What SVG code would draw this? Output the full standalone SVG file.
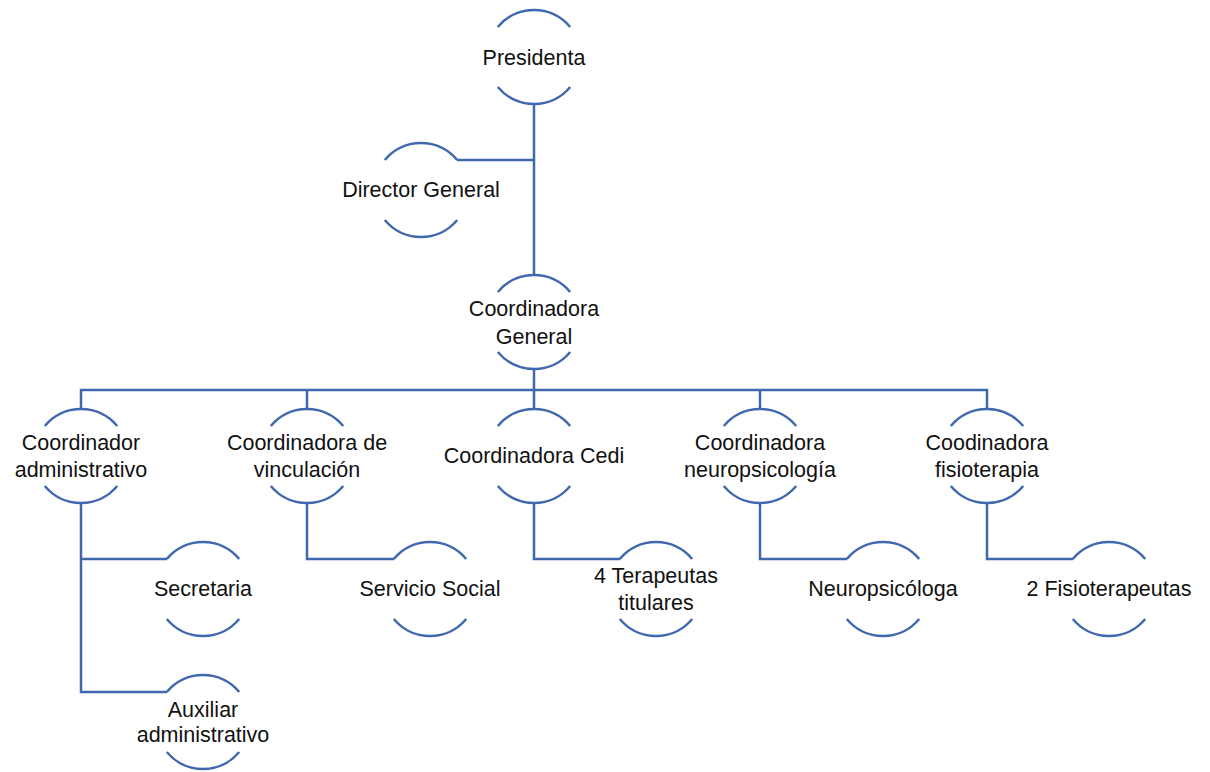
<svg xmlns="http://www.w3.org/2000/svg" xmlns:xlink="http://www.w3.org/1999/xlink" width="1210" height="772" viewBox="0 0 1210 772">
<style>
.arc{fill:none;stroke:#4068AE;stroke-width:2.5}
.con{fill:none;stroke:#4068AE;stroke-width:2.5}
text{font-family:"Liberation Sans",Arial,sans-serif;font-size:21.5px;fill:#111;text-anchor:middle}
</style>
<defs>
<path id="arcs" class="arc" d="M-36.2,-30 A47,47 0 0 1 36.2,-30 M-36.2,30 A47,47 0 0 0 36.2,30"/>
</defs>
<rect width="1210" height="772" fill="#fff"/>
<g id="connectors" class="con">
<path d="M534,104 V275"/>
<path d="M457,160 H534"/>
<path d="M534,369 V390"/>
<path d="M81,409 V390 H987 V409"/>
<path d="M307,390 V409 M534,390 V409 M760,390 V409"/>
<path d="M81,503 V692 H167 M81,559 H167"/>
<path d="M307,503 V559 H394"/>
<path d="M534,503 V559 H620"/>
<path d="M760,503 V559 H847"/>
<path d="M987,503 V559 H1073"/>
</g>
<g id="presidenta" transform="translate(534,57)"><use xlink:href="#arcs"/><text y="8">Presidenta</text></g>
<g id="director-general" transform="translate(421,190)"><use xlink:href="#arcs"/><text y="7">Director General</text></g>
<g id="coordinadora-general" transform="translate(534,322)"><use xlink:href="#arcs"/><text y="-6">Coordinadora</text><text y="22">General</text></g>
<g id="coordinador-administrativo" transform="translate(81,456)"><use xlink:href="#arcs"/><text y="-6">Coordinador</text><text y="21">administrativo</text></g>
<g id="coordinadora-vinculacion" transform="translate(307,456)"><use xlink:href="#arcs"/><text y="-6">Coordinadora de</text><text y="21">vinculación</text></g>
<g id="coordinadora-cedi" transform="translate(534,456)"><use xlink:href="#arcs"/><text y="7">Coordinadora Cedi</text></g>
<g id="coordinadora-neuropsicologia" transform="translate(760,456)"><use xlink:href="#arcs"/><text y="-6">Coordinadora</text><text y="21">neuropsicología</text></g>
<g id="coodinadora-fisioterapia" transform="translate(987,456)"><use xlink:href="#arcs"/><text y="-6">Coodinadora</text><text y="21">fisioterapia</text></g>
<g id="secretaria" transform="translate(203,589)"><use xlink:href="#arcs"/><text y="7">Secretaria</text></g>
<g id="auxiliar-administrativo" transform="translate(203,722)"><use xlink:href="#arcs"/><text y="-5">Auxiliar</text><text y="20">administrativo</text></g>
<g id="servicio-social" transform="translate(430,589)"><use xlink:href="#arcs"/><text y="7">Servicio Social</text></g>
<g id="terapeutas" transform="translate(656,589)"><use xlink:href="#arcs"/><text y="-6">4 Terapeutas</text><text y="21">titulares</text></g>
<g id="neuropsicologa" transform="translate(883,589)"><use xlink:href="#arcs"/><text y="7">Neuropsicóloga</text></g>
<g id="fisioterapeutas" transform="translate(1109,589)"><use xlink:href="#arcs"/><text y="7">2 Fisioterapeutas</text></g>
</svg>
